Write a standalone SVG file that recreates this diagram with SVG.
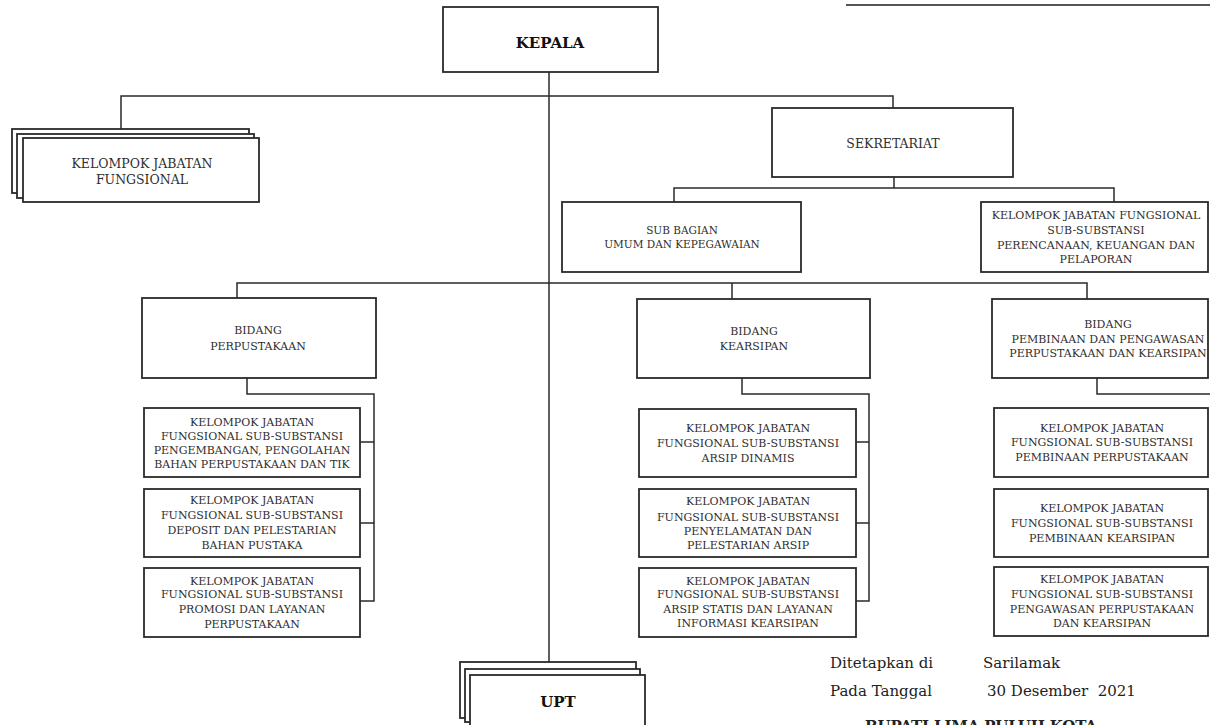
<svg xmlns="http://www.w3.org/2000/svg" width="1210" height="725" viewBox="0 0 1210 725">
<style>
.box{fill:#fff;stroke:#2a2a2a;stroke-width:1.8}
.ln{fill:none;stroke:#2a2a2a;stroke-width:1.5}
.t{font-family:"DejaVu Serif","Liberation Serif",serif;fill:#2e2e2e;text-anchor:middle}
.s11{font-size:11px}
.s12{font-size:12.5px}
.b{font-weight:bold;fill:#111}
.ft{font-family:"DejaVu Serif","Liberation Serif",serif;font-size:15px;fill:#222}
</style>
<rect width="1210" height="725" fill="#fff"/>
<line x1="846" y1="5" x2="1210" y2="5" stroke="#555" stroke-width="2"/>
<g id="connectors">
<path class="ln" d="M549,72 V662"/>
<path class="ln" d="M121,129 V96 H893 V108"/>
<path class="ln" d="M894,177 V188 M674,202 V188 H1114 V202"/>
<path class="ln" d="M237,298 V283 H1087 V299 M732,283 V299"/>
<path class="ln" d="M247,378 V394 H374 V601 H360 M360,442 H374 M360,523 H374"/>
<path class="ln" d="M742,378 V394 H869 V601 H856 M856,442 H869 M856,523 H869"/>
<path class="ln" d="M1097,378 V394 H1210"/>
</g>
<g id="kepala">
<rect class="box" x="443" y="7" width="215" height="65"/>
<text class="t b" x="550" y="47.5" font-size="15">KEPALA</text>
</g>
<g id="kjf">
<rect class="box" x="12" y="129" width="237" height="64"/>
<rect class="box" x="17" y="134" width="237" height="64"/>
<rect class="box" x="23" y="138" width="236" height="64"/>
<text class="t s12" x="142" y="168">KELOMPOK JABATAN</text>
<text class="t s12" x="142" y="184">FUNGSIONAL</text>
</g>
<g id="sekretariat">
<rect class="box" x="772" y="108" width="241" height="69"/>
<text class="t s12" x="893" y="147.5">SEKRETARIAT</text>
</g>
<g id="subbagian">
<rect class="box" x="562" y="202" width="239" height="70"/>
<text class="t" font-size="10.5" x="682" y="234">SUB BAGIAN</text>
<text class="t" font-size="10.5" x="682" y="248">UMUM DAN KEPEGAWAIAN</text>
</g>
<g id="kjf-perencanaan">
<rect class="box" x="981" y="202" width="227" height="70"/>
<text class="t s11" x="1096" y="219">KELOMPOK JABATAN FUNGSIONAL</text>
<text class="t s11" x="1096" y="234">SUB-SUBSTANSI</text>
<text class="t s11" x="1096" y="249">PERENCANAAN, KEUANGAN DAN</text>
<text class="t s11" x="1096" y="263">PELAPORAN</text>
</g>
<g id="bidang-perpustakaan">
<rect class="box" x="142" y="298" width="234" height="80"/>
<text class="t s11" x="258" y="334">BIDANG</text>
<text class="t s11" x="258" y="350">PERPUSTAKAAN</text>
</g>
<g id="bidang-kearsipan">
<rect class="box" x="637" y="299" width="233" height="79"/>
<text class="t s11" x="754" y="335">BIDANG</text>
<text class="t s11" x="754" y="350">KEARSIPAN</text>
</g>
<g id="bidang-pembinaan">
<rect class="box" x="992" y="299" width="216" height="79"/>
<text class="t s11" x="1108" y="328">BIDANG</text>
<text class="t s11" x="1108" y="343">PEMBINAAN DAN PENGAWASAN</text>
<text class="t s11" x="1108" y="357">PERPUSTAKAAN DAN KEARSIPAN</text>
</g>
<g id="p1">
<rect class="box" x="144" y="408" width="216" height="69"/>
<text class="t s11" x="252" y="426">KELOMPOK JABATAN</text>
<text class="t s11" x="252" y="440">FUNGSIONAL SUB-SUBSTANSI</text>
<text class="t s11" x="252" y="454">PENGEMBANGAN, PENGOLAHAN</text>
<text class="t s11" x="252" y="468">BAHAN PERPUSTAKAAN DAN TIK</text>
</g>
<g id="p2">
<rect class="box" x="144" y="489" width="216" height="68"/>
<text class="t s11" x="252" y="504">KELOMPOK JABATAN</text>
<text class="t s11" x="252" y="519">FUNGSIONAL SUB-SUBSTANSI</text>
<text class="t s11" x="252" y="534">DEPOSIT DAN PELESTARIAN</text>
<text class="t s11" x="252" y="549">BAHAN PUSTAKA</text>
</g>
<g id="p3">
<rect class="box" x="144" y="568" width="216" height="69"/>
<text class="t s11" x="252" y="585">KELOMPOK JABATAN</text>
<text class="t s11" x="252" y="598">FUNGSIONAL SUB-SUBSTANSI</text>
<text class="t s11" x="252" y="613">PROMOSI DAN LAYANAN</text>
<text class="t s11" x="252" y="628">PERPUSTAKAAN</text>
</g>
<g id="k1">
<rect class="box" x="639" y="409" width="217" height="68"/>
<text class="t s11" x="748" y="432">KELOMPOK JABATAN</text>
<text class="t s11" x="748" y="447">FUNGSIONAL SUB-SUBSTANSI</text>
<text class="t s11" x="748" y="462">ARSIP DINAMIS</text>
</g>
<g id="k2">
<rect class="box" x="639" y="489" width="217" height="68"/>
<text class="t s11" x="748" y="505">KELOMPOK JABATAN</text>
<text class="t s11" x="748" y="521">FUNGSIONAL SUB-SUBSTANSI</text>
<text class="t s11" x="748" y="535">PENYELAMATAN DAN</text>
<text class="t s11" x="748" y="549">PELESTARIAN ARSIP</text>
</g>
<g id="k3">
<rect class="box" x="639" y="568" width="217" height="69"/>
<text class="t s11" x="748" y="585">KELOMPOK JABATAN</text>
<text class="t s11" x="748" y="598">FUNGSIONAL SUB-SUBSTANSI</text>
<text class="t s11" x="748" y="613">ARSIP STATIS DAN LAYANAN</text>
<text class="t s11" x="748" y="627">INFORMASI KEARSIPAN</text>
</g>
<g id="r1">
<rect class="box" x="994" y="408" width="214" height="69"/>
<text class="t s11" x="1102" y="432">KELOMPOK JABATAN</text>
<text class="t s11" x="1102" y="446">FUNGSIONAL SUB-SUBSTANSI</text>
<text class="t s11" x="1102" y="461">PEMBINAAN PERPUSTAKAAN</text>
</g>
<g id="r2">
<rect class="box" x="994" y="489" width="214" height="68"/>
<text class="t s11" x="1102" y="512">KELOMPOK JABATAN</text>
<text class="t s11" x="1102" y="527">FUNGSIONAL SUB-SUBSTANSI</text>
<text class="t s11" x="1102" y="542">PEMBINAAN KEARSIPAN</text>
</g>
<g id="r3">
<rect class="box" x="994" y="567" width="214" height="69"/>
<text class="t s11" x="1102" y="583">KELOMPOK JABATAN</text>
<text class="t s11" x="1102" y="598">FUNGSIONAL SUB-SUBSTANSI</text>
<text class="t s11" x="1102" y="613">PENGAWASAN  PERPUSTAKAAN</text>
<text class="t s11" x="1102" y="627">DAN KEARSIPAN</text>
</g>
<g id="upt">
<rect class="box" x="460" y="662" width="176" height="56"/>
<rect class="box" x="465" y="669" width="175" height="53"/>
<rect class="box" x="470" y="675" width="175" height="60"/>
<text class="t b" x="558" y="707" font-size="15" font-family="Liberation Serif, serif">UPT</text>
</g>
<g id="pengesahan">
<text class="ft" x="830" y="668">Ditetapkan di</text>
<text class="ft" x="983" y="668">Sarilamak</text>
<text class="ft" x="830" y="696">Pada Tanggal</text>
<text class="ft" x="987" y="696" xml:space="preserve">30 Desember  2021</text>
<text class="ft" x="865" y="731" font-weight="bold" textLength="232">BUPATI LIMA PULUH KOTA</text>
</g>
</svg>
